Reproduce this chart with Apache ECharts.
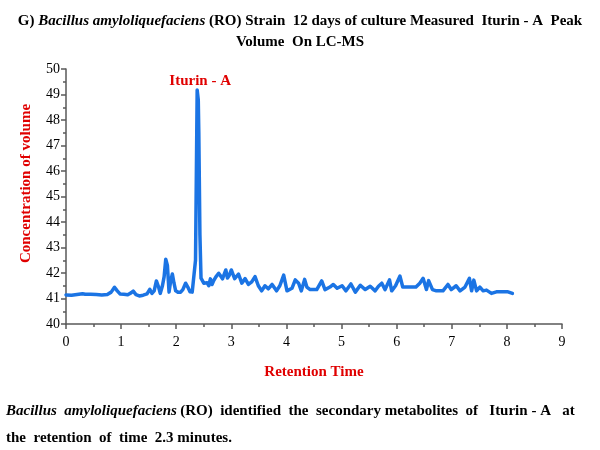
<!DOCTYPE html>
<html>
<head>
<meta charset="utf-8">
<script src="https://cdn.jsdelivr.net/npm/echarts@6/dist/echarts.min.js"></script>
<style>
  html, body { margin: 0; padding: 0; background: #fff; }
  #chart { width: 600px; height: 450px; }
</style>
</head>
<body>
<div id="chart"></div>
<script>
// retention time (min) and measured concentration
var retentionTime = [
    0.00, 0.10, 0.20, 0.30, 0.35, 0.45, 0.55, 0.65, 0.75, 0.82,
    0.88, 0.93, 0.98, 1.05, 1.12, 1.18, 1.22, 1.27, 1.33, 1.40,
    1.47, 1.52, 1.56, 1.60, 1.64, 1.68, 1.71, 1.75, 1.78, 1.81,
    1.84, 1.87, 1.90, 1.93, 1.96, 1.99, 2.03, 2.08, 2.12, 2.17,
    2.21, 2.25, 2.29, 2.32, 2.35, 2.38, 2.40, 2.41, 2.43, 2.45,
    2.47, 2.50, 2.53, 2.56, 2.59, 2.62, 2.65, 2.68, 2.72, 2.77,
    2.80, 2.84, 2.87, 2.90, 2.93, 2.96, 3.00, 3.03, 3.06, 3.13,
    3.19, 3.25, 3.31, 3.37, 3.43, 3.49, 3.55, 3.61, 3.67, 3.74,
    3.82, 3.88, 3.95, 4.01, 4.10, 4.16, 4.22, 4.27, 4.33, 4.37,
    4.43, 4.55, 4.64, 4.70, 4.79, 4.85, 4.88, 4.92, 5.01, 5.08,
    5.17, 5.25, 5.34, 5.43, 5.52, 5.61, 5.67, 5.73, 5.79, 5.87,
    5.91, 5.98, 6.06, 6.11, 6.20, 6.35, 6.42, 6.48, 6.54, 6.58,
    6.65, 6.72, 6.84, 6.93, 6.99, 7.08, 7.15, 7.24, 7.32, 7.36,
    7.40, 7.45, 7.51, 7.57, 7.63, 7.72, 7.81, 7.93, 8.02, 8.10
];
var concentration = [
    41.14, 41.13, 41.16, 41.19, 41.17, 41.17, 41.16, 41.14, 41.16, 41.25,
    41.44, 41.30, 41.18, 41.17, 41.15, 41.22, 41.29, 41.15, 41.10, 41.13,
    41.18, 41.36, 41.20, 41.30, 41.69, 41.45, 41.20, 41.50, 41.85, 42.54,
    42.30, 41.25, 41.70, 41.96, 41.60, 41.30, 41.25, 41.25, 41.35, 41.60,
    41.45, 41.26, 41.25, 41.31, 42.50, 49.18, 48.80, 47.50, 43.50, 41.80,
    41.75, 41.60, 41.55, 41.62, 41.50, 41.77, 41.55, 41.70, 41.85, 41.99,
    41.90, 41.77, 41.95, 42.12, 41.80, 41.90, 42.12, 41.95, 41.78, 41.96,
    41.60, 41.78, 41.55, 41.65, 41.86, 41.50, 41.30, 41.50, 41.38, 41.55,
    41.30, 41.50, 41.92, 41.30, 41.40, 41.73, 41.60, 41.30, 41.75, 41.45,
    41.35, 41.35, 41.69, 41.35, 41.45, 41.55, 41.48, 41.40, 41.50, 41.30,
    41.57, 41.25, 41.52, 41.35, 41.48, 41.30, 41.48, 41.60, 41.35, 41.73,
    41.30, 41.50, 41.88, 41.45, 41.45, 41.45, 41.60, 41.79, 41.35, 41.70,
    41.35, 41.30, 41.30, 41.55, 41.35, 41.50, 41.30, 41.45, 41.79, 41.30,
    41.72, 41.30, 41.45, 41.30, 41.33, 41.20, 41.26, 41.26, 41.26, 41.20
];
var xTicks = [0, 1, 2, 3, 4, 5, 6, 7, 8, 9];
var yTicks = [40, 41, 42, 43, 44, 45, 46, 47, 48, 49, 50];

var serif = '"Liberation Serif", "DejaVu Serif", serif';

var points = retentionTime.map(function (t, i) {
    return [t, concentration[i]];
});

var myChart = echarts.init(document.getElementById('chart'));

var option = {
    backgroundColor: '#fff',
    animation: false,
    title: [{
        left: 'center',
        top: 6,
        text: '{b|G) }{bi|Bacillus amyloliquefaciens}{b| (RO) Strain  12 days of culture Measured  Iturin - A  Peak}\n{b|Volume  On LC-MS}',
        textStyle: {
            align: 'center',
            rich: {
                b: { fontFamily: serif, fontSize: 15, fontWeight: 'bold', color: '#000', lineHeight: 21 },
                bi: { fontFamily: serif, fontSize: 15, fontWeight: 'bold', fontStyle: 'italic', color: '#000', lineHeight: 21 }
            }
        }
    }],
    graphic: [{
        type: 'text',
        left: 6,
        top: 404,
        style: {
            text: '{bi|Bacillus  amyloliquefaciens} {b|(RO)  identified  the  secondary metabolites  of   Iturin - A   at}\n{b|the  retention  of  time  2.3 minutes.}',
            rich: {
                b: { fontFamily: serif, fontSize: 15, fontWeight: 'bold', fill: '#000', lineHeight: 27 },
                bi: { fontFamily: serif, fontSize: 15, fontWeight: 'bold', fontStyle: 'italic', fill: '#000', lineHeight: 27 }
            }
        }
    }],
    grid: {
        left: 66,
        right: 38,
        top: 69,
        bottom: 126
    },
    xAxis: {
        type: 'value',
        min: xTicks[0],
        max: xTicks[xTicks.length - 1],
        interval: 1,
        name: 'Retention Time',
        nameLocation: 'middle',
        nameGap: 41,
        nameTextStyle: { fontFamily: serif, fontSize: 15, fontWeight: 'bold', color: '#e00000' },
        axisLine: { lineStyle: { color: '#595959', width: 1.5 } },
        axisTick: { length: 5, lineStyle: { color: '#595959', width: 1.5 } },
        minorTick: { show: true, splitNumber: 2, length: 3, lineStyle: { color: '#595959', width: 1.5 } },
        axisLabel: { fontFamily: serif, fontSize: 14, color: '#000', margin: 11 },
        splitLine: { show: false }
    },
    yAxis: {
        type: 'value',
        min: yTicks[0],
        max: yTicks[yTicks.length - 1],
        interval: 1,
        name: 'Concentration of volume',
        nameLocation: 'middle',
        nameGap: 32,
        nameTextStyle: { fontFamily: serif, fontSize: 15, fontWeight: 'bold', color: '#e00000', padding: [0, 0, 0, 26] },
        axisLine: { show: true, lineStyle: { color: '#595959', width: 1.5 } },
        axisTick: { show: true, length: 5, lineStyle: { color: '#595959', width: 1.5 } },
        minorTick: { show: true, splitNumber: 2, length: 3, lineStyle: { color: '#595959', width: 1.5 } },
        axisLabel: { fontFamily: serif, fontSize: 14, color: '#000', margin: 6 },
        splitLine: { show: false }
    },
    series: [{
        type: 'line',
        data: points,
        showSymbol: false,
        symbol: 'none',
        lineStyle: { color: '#1b74e4', width: 3.5, join: 'round', cap: 'round' },
        markPoint: {
            symbol: 'circle',
            symbolSize: 0,
            data: [{ type: 'max' }],
            label: {
                show: true,
                position: 'top',
                distance: 1,
                offset: [3, 0],
                formatter: 'Iturin - A',
                fontFamily: serif,
                fontSize: 15,
                fontWeight: 'bold',
                color: '#e00000'
            }
        }
    }]
};

myChart.setOption(option);
</script>
</body>
</html>
